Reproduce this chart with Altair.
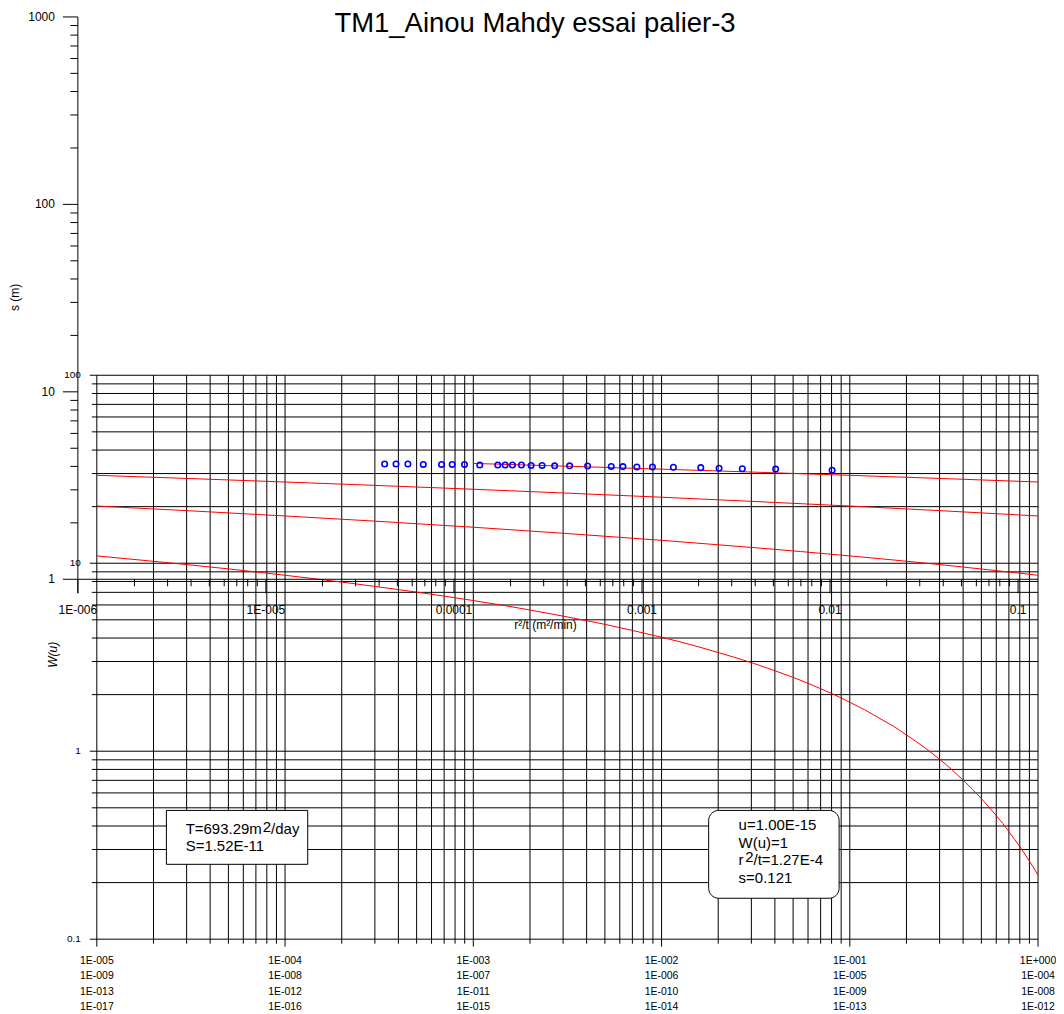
import altair as alt
import pandas as pd

FONT = "Liberation Sans"
TITLE = "TM1_Ainou Mahdy essai palier-3"

# ---------------- observed data (r^2/t, drawdown s) ----------------
r2t_obs = [4.28e-5, 4.92e-5, 5.69e-5, 6.87e-5, 8.59e-5, 9.79e-5, 1.138e-4, 1.372e-4,
           1.710e-4, 1.872e-4, 2.047e-4, 2.285e-4, 2.572e-4, 2.942e-4, 3.432e-4,
           4.123e-4, 5.137e-4, 6.863e-4, 7.918e-4, 9.395e-4, 1.137e-3, 1.469e-3,
           2.054e-3, 2.570e-3, 3.415e-3, 5.137e-3, 1.026e-2]
s_obs = [4.12, 4.12, 4.12, 4.10, 4.10, 4.10, 4.10, 4.07, 4.07, 4.07, 4.07, 4.07,
         4.05, 4.05, 4.03, 4.03, 4.02, 4.00, 3.99, 3.97, 3.97, 3.96, 3.94, 3.91,
         3.89, 3.87, 3.82]

# ---------------- type curves (position on the bottom scale, W(u)) ----------------
x_row1 = [1e-5, 2e-5, 3e-5, 5e-5, 7e-5, 1e-4, 2e-4, 3e-4, 5e-4, 7e-4, 1e-3, 1.5e-3,
          2e-3, 3e-3, 5e-3, 7e-3, 0.01, 0.015, 0.02, 0.03, 0.04, 0.05, 0.06, 0.07,
          0.08, 0.09, 0.1, 0.12, 0.15, 0.17, 0.2, 0.25, 0.3, 0.35, 0.4, 0.45, 0.5,
          0.55, 0.6, 0.65, 0.7, 0.75, 0.8, 0.85, 0.9, 0.95, 1.0]
w_row1 = [10.94, 10.24, 9.84, 9.33, 8.99, 8.63, 7.94, 7.53, 7.02, 6.69, 6.33, 5.93,
          5.64, 5.23, 4.73, 4.39, 4.04, 3.64, 3.35, 2.96, 2.68, 2.47, 2.30, 2.15,
          2.03, 1.92, 1.82, 1.66, 1.46, 1.36, 1.22, 1.044, 0.906, 0.794, 0.702, 0.625,
          0.560, 0.503, 0.454, 0.412, 0.374, 0.340, 0.311, 0.284, 0.260, 0.239, 0.219]
x_row2 = [1e-5, 3e-5, 1e-4, 3e-4, 1e-3, 3e-3, 1e-2, 3e-2, 0.1, 0.3, 1.0]
w_row2 = [20.15, 19.05, 17.84, 16.75, 15.54, 14.44, 13.24, 12.14, 10.94, 9.84, 8.63]
x_row3 = [1e-5, 3e-5, 1e-4, 3e-4, 1e-3, 3e-3, 1e-2, 3e-2, 0.1, 0.3, 1.0]
w_row3 = [29.36, 28.26, 27.05, 25.96, 24.75, 23.65, 22.45, 21.35, 20.15, 19.05, 17.84]
x_row4 = [1e-3, 3e-3, 1e-2, 3e-2, 0.1, 0.3, 1.0]
w_row4 = [33.96, 32.86, 31.66, 30.56, 29.36, 28.26, 27.05]

# ---------------- axis ticks / labels ----------------
xt_major = [1e-5, 1e-4, 1e-3, 1e-2, 1e-1, 1.0]
xt_minor = [k * 10.0 ** e for e in range(-5, 0) for k in range(2, 10)]
yt_major = [0.1, 1.0, 10.0, 100.0]
yt_minor = [k * 10.0 ** e for e in range(-1, 2) for k in range(2, 10)]
yt_labels = ["0.1", "1", "10", "100"]
bottom_rows = [
    ["1E-005", "1E-004", "1E-003", "1E-002", "1E-001", "1E+000"],
    ["1E-009", "1E-008", "1E-007", "1E-006", "1E-005", "1E-004"],
    ["1E-013", "1E-012", "1E-011", "1E-010", "1E-009", "1E-008"],
    ["1E-017", "1E-016", "1E-015", "1E-014", "1E-013", "1E-012"],
]

xd_major = [1e-6, 1e-5, 1e-4, 1e-3, 1e-2, 1e-1]
xd_labels = ["1E-006", "1E-005", "0.0001", "0.001", "0.01", "0.1"]
xd_minor = [k * 10.0 ** e for e in range(-6, -1) for k in range(2, 10)]
yd_major = [1.0, 10.0, 100.0, 1000.0]
yd_labels = ["1", "10", "100", "1000"]
yd_minor = [k * 10.0 ** e for e in range(0, 3) for k in range(2, 10)]

# ---------------- scales ----------------
XT = alt.Scale(type="log", domain=[7.931e-6, 1.0], nice=False)
YT = alt.Scale(type="log", domain=[0.1, 8058.0], nice=False)
XD = alt.Scale(type="log", domain=[1e-6, 0.1277], nice=False)
YD = alt.Scale(type="log", domain=[0.012019, 1000.0], nice=False)


def X(f, s):
    return alt.X(f, type="quantitative", scale=s, axis=None)


def Y(f, s):
    return alt.Y(f, type="quantitative", scale=s, axis=None)


layers = []

# ----- type-curve grid -----
for vals, ext in [(xt_minor, 4.5), (xt_major, 7.5)]:
    df = pd.DataFrame({"x": vals, "y0": 0.1, "y1": 100.0})
    layers.append(alt.Chart(df).mark_rule(color="black", strokeWidth=1, yOffset=ext).encode(
        x=X("x", XT), y=Y("y0", YT), y2="y1:Q"))
for vals, ext in [(yt_minor, -5), (yt_major, -7)]:
    df = pd.DataFrame({"y": vals, "x0": 1e-5, "x1": 1.0})
    layers.append(alt.Chart(df).mark_rule(color="black", strokeWidth=1, xOffset=ext).encode(
        y=Y("y", YT), x=X("x0", XT), x2="x1:Q"))

# ----- type curves -----
curves = pd.concat([
    pd.DataFrame({"row": "r1", "x": x_row1, "w": w_row1}),
    pd.DataFrame({"row": "r2", "x": x_row2, "w": w_row2}),
    pd.DataFrame({"row": "r3", "x": x_row3, "w": w_row3}),
    pd.DataFrame({"row": "r4", "x": x_row4, "w": w_row4}),
])
layers.append(alt.Chart(curves).mark_line(color="#ff0000", strokeWidth=1, interpolate="monotone").encode(
    x=X("x", XT), y=Y("w", YT), detail="row:N"))

# ----- type-curve axis labels -----
layers.append(alt.Chart(pd.DataFrame({"y": yt_major, "t": yt_labels, "x": 1e-5})).mark_text(
    align="right", baseline="middle", dx=-16, fontSize=10, font=FONT, color="black").encode(
    x=X("x", XT), y=Y("y", YT), text="t:N"))
for i, (row, dy) in enumerate(zip(bottom_rows, [21.5, 37, 52.5, 68])):
    layers.append(alt.Chart(pd.DataFrame({"x": xt_major, "t": row, "y": 0.1})).mark_text(
        align="center", baseline="middle", dy=dy, fontSize=10.5, font=FONT, color="black").encode(
        x=X("x", XT), y=Y("y", YT), text="t:N"))
layers.append(alt.Chart(pd.DataFrame({"t": ["W(u)"]})).mark_text(
    angle=270, align="center", baseline="middle", fontSize=12, fontStyle="italic",
    font=FONT, color="black").encode(x=alt.value(-25), y=alt.value(639), text="t:N"))

# ----- annotation boxes -----
layers.append(alt.Chart(pd.DataFrame({"a": [0]})).mark_rect(
    fill="white", stroke="black", strokeWidth=1).encode(
    x=alt.value(88.7), x2=alt.value(230.3), y=alt.value(795), y2=alt.value(849)))
layers.append(alt.Chart(pd.DataFrame({"a": [0]})).mark_rect(
    fill="white", stroke="black", strokeWidth=1, cornerRadius=10).encode(
    x=alt.value(632), x2=alt.value(762.7), y=alt.value(795), y2=alt.value(883)))

box_texts = [
    ("T=693.29m", 108, 819), ("2", 185.3, 816.3), ("/day", 193.6, 819),
    ("S=1.52E-11", 108, 835.7),
    ("u=1.00E-15", 662, 815), ("W(u)=1", 662, 832.3),
    ("r", 662, 849.7), ("2", 668.6, 847), ("/t=1.27E-4", 676.9, 849.7),
    ("s=0.121", 662, 867.3),
]
for t, px, py in box_texts:
    layers.append(alt.Chart(pd.DataFrame({"t": [t]})).mark_text(
        align="left", baseline="alphabetic", fontSize=15, font=FONT, color="black").encode(
        x=alt.value(px), y=alt.value(py), text="t:N"))

# ----- data axes -----
layers.append(alt.Chart(pd.DataFrame({"x": [1e-6], "y0": [0.842], "y1": [1000.0]})).mark_rule(
    color="black", strokeWidth=1).encode(x=X("x", XD), y=Y("y0", YD), y2="y1:Q"))
for vals, ext in [(yd_minor, -7.5), (yd_major, -15)]:
    df = pd.DataFrame({"y": vals, "x": 1e-6})
    layers.append(alt.Chart(df).mark_rule(color="black", strokeWidth=1, xOffset=ext).encode(
        y=Y("y", YD), x=X("x", XD), x2="x:Q"))
layers.append(alt.Chart(pd.DataFrame({"y": yd_major, "t": yd_labels, "x": 1e-6})).mark_text(
    align="right", baseline="middle", dx=-23, fontSize=12, font=FONT, color="black").encode(
    x=X("x", XD), y=Y("y", YD), text="t:N"))
layers.append(alt.Chart(pd.DataFrame({"t": ["s (m)"]})).mark_text(
    angle=270, align="center", baseline="middle", fontSize=12, font=FONT, color="black").encode(
    x=alt.value(-63), y=alt.value(281), text="t:N"))

layers.append(alt.Chart(pd.DataFrame({"y": [1.0], "x0": [1e-6], "x1": [0.1277]})).mark_rule(
    color="black", strokeWidth=1).encode(y=Y("y", YD), x=X("x0", XD), x2="x1:Q"))
for vals, ext in [(xd_minor, 7), (xd_major, 14)]:
    df = pd.DataFrame({"x": vals, "y": 1.0})
    layers.append(alt.Chart(df).mark_rule(color="black", strokeWidth=1, y2Offset=ext).encode(
        x=X("x", XD), y=Y("y", YD), y2="y:Q"))
layers.append(alt.Chart(pd.DataFrame({"x": xd_major, "t": xd_labels, "y": 1.0})).mark_text(
    align="center", baseline="middle", dy=30.6, fontSize=12, font=FONT, color="black").encode(
    x=X("x", XD), y=Y("y", YD), text="t:N"))
layers.append(alt.Chart(pd.DataFrame({"t": ["r\u00b2/t (m\u00b2/min)"]})).mark_text(
    align="center", baseline="middle", fontSize=12, font=FONT, color="black").encode(
    x=alt.value(468.5), y=alt.value(609), text="t:N"))

# ----- observed points -----
layers.append(alt.Chart(pd.DataFrame({"r": r2t_obs, "s": s_obs})).mark_point(
    shape="circle", filled=False, color="#0000ff", strokeWidth=1.6, size=30, opacity=1).encode(
    x=X("r", XD), y=Y("s", YD)))

# ----- title -----
layers.append(alt.Chart(pd.DataFrame({"t": [TITLE]})).mark_text(
    align="center", baseline="alphabetic", fontSize=27.5, font=FONT, color="black").encode(
    x=alt.value(458), y=alt.value(15), text="t:N"))

chart = alt.layer(*layers).resolve_scale(x="independent", y="independent").properties(
    width=962, height=924,
    padding={"left": 70, "top": 8, "right": 18, "bottom": 76},
    autosize=alt.AutoSizeParams(type="none"),
    background="white",
).configure_view(stroke=None)

chart.save("out.html", embed_options={"renderer": "svg", "actions": False})
